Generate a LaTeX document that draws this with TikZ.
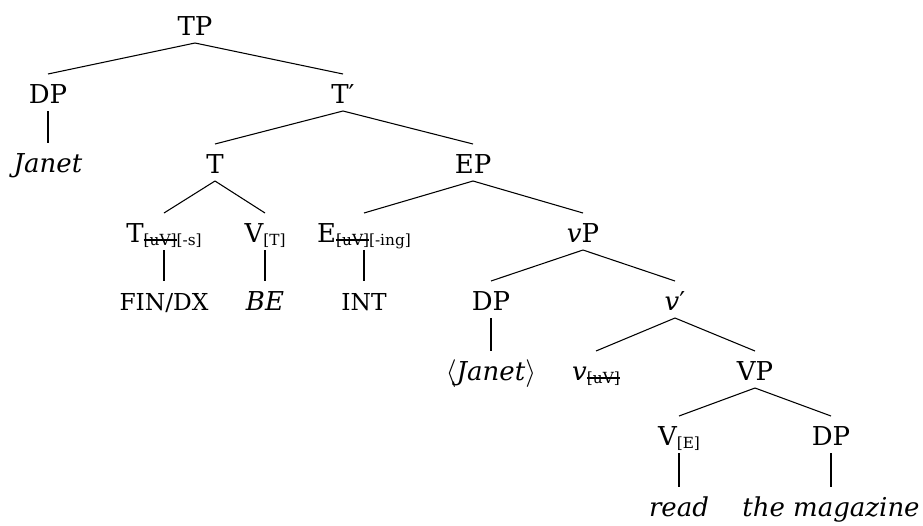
\documentclass[tikz,border=0pt]{standalone}
\usepackage{fontspec}
\setmainfont{DejaVu Serif}
\newsavebox\sbx
\newcommand\strk[1]{\sbox\sbx{#1}\rlap{\rule[3.4pt]{\wd\sbx}{1.3pt}}\usebox\sbx}
\newcommand\subt[1]{\raisebox{-2.4pt}{\fontsize{11.5}{11.5}\selectfont #1}}
\newcommand\smc[1]{{\fontsize{17.5}{17.5}\selectfont #1}}
\tikzset{
  lab/.style={anchor=base, inner sep=0pt, outer sep=0pt, text height=21.75pt, text depth=6pt, font=\fontsize{19.5}{19.5}\selectfont},
  br/.style={line width=0.8pt},
  un/.style={line width=2pt},
}
\begin{document}
\begin{tikzpicture}[x=0.75pt,y=-0.75pt]
\path[use as bounding box] (0,0) rectangle (923,525);
% level 0
\node[lab] (TP) at (195,35) {TP};
% level 1
\node[lab] (DP1) at (48,103) {DP};
\node[lab] (Tbar) at (343,103) {T′};
% level 2
\node[lab] (Janet) at (48,172) {\itshape Janet};
\node[lab] (T) at (215,173) {T};
\node[lab] (EP) at (473,173) {EP};
% level 3
\node[lab] (Th) at (164,242) {T\subt{\strk{[uV]}[-s]}};
\node[lab] (VT) at (265,242) {V\subt{[T]}};
\node[lab] (Eh) at (364,242) {E\subt{\strk{[uV]}[-ing]}};
\node[lab] (vP) at (583,242) {\textit{v}P};
% level 4
\node[lab] (FIN) at (164,310) {\smc{FIN/DX}};
\node[lab] (BE) at (265,310) {\itshape BE};
\node[lab] (INT) at (364,310) {\smc{INT}};
\node[lab] (DP2) at (491,310) {DP};
\node[lab] (vbar) at (675,310) {\textit{v}′};
% level 5
\node[lab] (Janet2) at (491,380) {$\langle$\textit{Janet}$\rangle$};
\node[lab] (vh) at (596,380) {\textit{v}\subt{\strk{[uV]}}};
\node[lab] (VP) at (755,380) {VP};
% level 6
\node[lab] (VE) at (679,445) {V\subt{[E]}};
\node[lab] (DP3) at (831,445) {DP};
% level 7
\node[lab] (read) at (679,516) {\itshape read};
\node[lab] (mag) at (831,516) {\itshape the magazine};
% branches
\draw[br] (TP.south) -- (DP1.north);
\draw[br] (TP.south) -- (Tbar.north);
\draw[br] (Tbar.south) -- (T.north);
\draw[br] (Tbar.south) -- (EP.north);
\draw[br] (T.south) -- (Th.north);
\draw[br] (T.south) -- (VT.north);
\draw[br] (EP.south) -- (Eh.north);
\draw[br] (EP.south) -- (vP.north);
\draw[br] (vP.south) -- (DP2.north);
\draw[br] (vP.south) -- (vbar.north);
\draw[br] (vbar.south) -- (vh.north);
\draw[br] (vbar.south) -- (VP.north);
\draw[br] (VP.south) -- (VE.north);
\draw[br] (VP.south) -- (DP3.north);
% unary
\draw[un] (DP1.south) -- (Janet.north);
\draw[un] (Th.south) -- (FIN.north);
\draw[un] (VT.south) -- (BE.north);
\draw[un] (Eh.south) -- (INT.north);
\draw[un] (DP2.south) -- (Janet2.north);
\draw[un] (VE.south) -- (read.north);
\draw[un] (DP3.south) -- (mag.north);
\end{tikzpicture}
\end{document}
